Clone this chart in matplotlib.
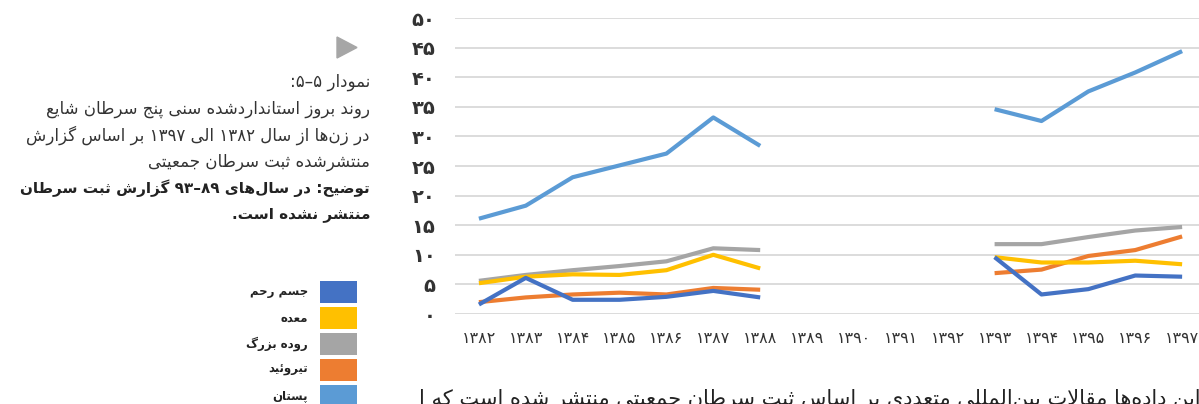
import re
import unicodedata
import numpy as np
import matplotlib
matplotlib.use("Agg")
import matplotlib.pyplot as plt
from matplotlib.patches import Polygon, Rectangle

plt.rcParams['font.family'] = ['DejaVu Sans']

# data (no report for 1389-1392)
nan = np.nan
years = ['۱۳۸۲', '۱۳۸۳', '۱۳۸۴', '۱۳۸۵', '۱۳۸۶', '۱۳۸۷', '۱۳۸۸', '۱۳۸۹',
         '۱۳۹۰', '۱۳۹۱', '۱۳۹۲', '۱۳۹۳', '۱۳۹۴', '۱۳۹۵', '۱۳۹۶', '۱۳۹۷']
breast = [16.1, 18.3, 23.1, 25.1, 27.1, 33.2, 28.4, nan, nan, nan, nan, 34.6, 32.6, 37.6, 40.8, 44.4]
thyroid = [2.0, 2.8, 3.3, 3.6, 3.3, 4.4, 4.1, nan, nan, nan, nan, 6.9, 7.5, 9.8, 10.8, 13.1]
colorectal = [5.6, 6.6, 7.4, 8.1, 8.9, 11.1, 10.8, nan, nan, nan, nan, 11.8, 11.8, 13.0, 14.1, 14.7]
stomach = [5.2, 6.3, 6.7, 6.6, 7.4, 10.0, 7.7, nan, nan, nan, nan, 9.6, 8.7, 8.7, 9.0, 8.4]
uterine = [1.6, 6.1, 2.4, 2.4, 2.9, 3.9, 2.8, nan, nan, nan, nan, 9.6, 3.3, 4.2, 6.5, 6.3]

yticks = [0, 5, 10, 15, 20, 25, 30, 35, 40, 45, 50]
ytick_labels = ['۰', '۵', '۱۰', '۱۵', '۲۰', '۲۵', '۳۰', '۳۵', '۴۰', '۴۵', '۵۰']

# legend order as in the picture (top to bottom)
legend_names = ['جسم رحم', 'معده', 'روده بزرگ', 'تیروئید', 'پستان']
legend_colors = ['#4472C4', '#FFC000', '#A5A5A5', '#ED7D31', '#5B9BD5']

caption = ['نمودار ۵–۵:',
           'روند بروز استانداردشده سنی پنج سرطان شایع',
           'در زن‌ها از سال ۱۳۸۲ الی ۱۳۹۷ بر اساس گزارش',
           'منتشرشده ثبت سرطان جمعیتی']
note = ['توضیح: در سال‌های ۹۳–۸۹ گزارش ثبت سرطان',
        'منتشر نشده است.']
body_line = 'از این داده‌ها مقالات بین‌المللی متعددی بر اساس ثبت سرطان جمعیتی منتشر شده است که ا'


def forms(ch):
    """presentation forms of an arabic letter, None if not a joining letter"""
    try:
        name = unicodedata.name(ch)
    except ValueError:
        return None
    if not name.startswith('ARABIC LETTER'):
        return None
    f = {}
    for k in ('ISOLATED', 'FINAL', 'INITIAL', 'MEDIAL'):
        try:
            f[k] = unicodedata.lookup(name + ' ' + k + ' FORM')
        except KeyError:
            pass
    return f or None


def fa(s):
    """crude shaping + right-to-left ordering, matplotlib does neither"""
    out = []
    i = 0
    n = len(s)
    while i < n:
        ch = s[i]
        f = forms(ch)
        if f is None:
            out.append(ch)
            i += 1
            continue
        prev = forms(s[i - 1]) if i > 0 else None
        join_prev = prev is not None and 'INITIAL' in prev
        # lam + alef ligature
        if ch == 'ل' and i + 1 < n and s[i + 1] == 'ا':
            out.append('\uFEFC' if join_prev else '\uFEFB')
            i += 2
            continue
        nxt = forms(s[i + 1]) if i + 1 < n else None
        join_next = nxt is not None and 'INITIAL' in f
        if join_prev and join_next:
            k = 'MEDIAL'
        elif join_prev:
            k = 'FINAL'
        elif join_next:
            k = 'INITIAL'
        else:
            k = 'ISOLATED'
        out.append(f.get(k, f.get('ISOLATED', ch)))
        i += 1
    shaped = ''.join(out).replace('\u200c', '')
    parts = re.findall(r'[۰-۹]+(?:[–-][۰-۹]+)*|.', shaped)
    return ''.join(reversed(parts))


W, H = 1199, 404
fig = plt.figure(figsize=(W / 100, H / 100), dpi=100)
ax = fig.add_axes([455 / W, (H - 314) / H, (W - 455) / W, 296 / H])

x = np.arange(len(years))
series = [(breast, '#5B9BD5'), (thyroid, '#ED7D31'), (colorectal, '#A5A5A5'),
          (stomach, '#FFC000'), (uterine, '#4472C4')]
for vals, c in series:
    ax.plot(x, vals, color=c, lw=3.0, solid_joinstyle='round', solid_capstyle='butt')

ax.set_xlim(-0.51, 15.36)
ax.set_ylim(0, 50)
ax.set_yticks(yticks)
ax.set_yticklabels(ytick_labels, fontsize=14, fontweight='bold', color='#333333')
ax.set_xticks(x)
ax.set_xticklabels(years, fontsize=11.5, color='#333333')
ax.tick_params(axis='y', length=0, pad=14)
ax.tick_params(axis='x', length=0, pad=12)
ax.grid(axis='y', color='#D9D9D9', lw=1.3)
ax.set_axisbelow(True)
for sp in ax.spines.values():
    sp.set_visible(False)

# caption on the left
tx = 370 / W
fig.add_artist(Polygon([[337 / W, (H - 37) / H], [337 / W, (H - 58) / H], [357 / W, (H - 47.5) / H]],
                       closed=True, transform=fig.transFigure, color='#A6A6A6'))
y0 = 82
for line in caption:
    fig.text(tx, (H - y0) / H, fa(line), ha='right', va='center', fontsize=12, color='#333333')
    y0 += 26.6
for line in note:
    fig.text(tx, (H - y0) / H, fa(line), ha='right', va='center', fontsize=11,
             fontweight='bold', color='#222222')
    y0 += 26.6

# legend, swatches on the right of the names (rtl)
top = 281
for name, c in zip(legend_names, legend_colors):
    fig.add_artist(Rectangle((320 / W, (H - top - 22) / H), 37 / W, 22 / H,
                             transform=fig.transFigure, color=c, lw=0))
    fig.text(308 / W, (H - top - 11) / H, fa(name), ha='right', va='center',
             fontsize=8.5, fontweight='bold', color='#222222')
    top += 26

# body text of the page, cut by the bottom edge
fig.text(1.02, (H - 389) / H, fa(body_line), ha='right', va='top', fontsize=15, color='#222222')

fig.savefig('out.png', dpi=100)
